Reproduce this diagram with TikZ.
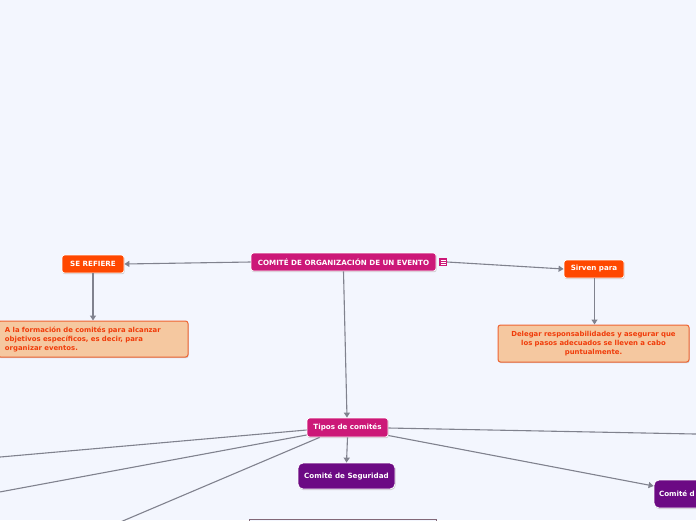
\documentclass[tikz,border=0pt]{standalone}
\usepackage{fontspec}
\setmainfont{DejaVu Sans}
\usetikzlibrary{arrows.meta,shadows}
\definecolor{bgc}{RGB}{243,246,254}
\definecolor{magc}{RGB}{204,24,120}
\definecolor{orc}{RGB}{255,72,0}
\definecolor{peach}{RGB}{245,200,160}
\definecolor{peachb}{RGB}{238,100,50}
\definecolor{peacht}{RGB}{240,60,10}
\definecolor{purc}{RGB}{108,10,132}
\definecolor{linec}{RGB}{128,130,142}
\definecolor{botc}{RGB}{130,104,120}
\tikzset{
  box/.style={rounded corners=2.5pt, draw=white, line width=0.8pt, inner sep=0pt, text=white,
    font=\fontsize{7.15}{8}\selectfont\bfseries,
    drop shadow={shadow xshift=0.6pt, shadow yshift=-1.2pt, fill=black!35, opacity=0.5}},
  magbox/.style={box, fill=magc},
  orbox/.style={box, fill=orc},
  purbox/.style={box, fill=purc, rounded corners=5pt},
  peachbox/.style={rounded corners=2.5pt, draw=peachb, line width=1pt, fill=peach, text=peacht,
    inner sep=0pt, font=\fontsize{6.9}{9}\selectfont\bfseries,
    drop shadow={shadow xshift=0.6pt, shadow yshift=-1.2pt, fill=black!35, opacity=0.5}},
  conn/.style={draw=linec, line width=1.1pt},
  arr/.style={conn, -{Triangle[length=5pt,width=6pt]}},
}
\begin{document}
\begin{tikzpicture}[x=1pt,y=-1pt]
\useasboundingbox (0,0) rectangle (696,520);
\clip (0,0) rectangle (696,520);
\fill[bgc] (0,0) rectangle (696,520);

% nodes
\node[magbox, minimum width=185pt, minimum height=18pt] (main) at (343.5,262) {COMITÉ DE ORGANIZACIÓN DE UN EVENTO};
\node[fill=magc, minimum width=8pt, minimum height=8pt, inner sep=0pt] (icon) at (443,262) {};
\foreach \dy in {-2,0,2} \draw[white, line width=0.6pt] ([xshift=-2.5pt,yshift=\dy pt]icon.center) -- ([xshift=2.5pt,yshift=\dy pt]icon.center);

\node[orbox, minimum width=62pt, minimum height=18pt] (seref) at (93,264) {SE REFIERE};
\node[peachbox, minimum width=190pt, minimum height=36pt, align=left, text width=176pt] (lbox) at (93,339)
  {A la formación de comités para alcanzar\\objetivos específicos, es decir, para\\organizar eventos.};

\node[orbox, minimum width=60pt, minimum height=18pt] (sirven) at (594,269) {Sirven para};
\node[peachbox, minimum width=191pt, minimum height=37pt, align=center, text width=185pt] (rbox) at (593.5,343.5)
  {Delegar responsabilidades y asegurar que\\los pasos adecuados se lleven a cabo\\puntualmente.};

\node[magbox, minimum width=81pt, minimum height=19pt] (tipos) at (347.5,427.5) {Tipos de comités};
\node[purbox, minimum width=97pt, minimum height=26pt] (seg) at (346.5,476) {Comité de Seguridad};
\node[purbox, minimum width=100pt, minimum height=28pt, text width=90pt, align=left] (comd) at (704,494) {Comité d};

\node[draw=botc, fill=bgc, line width=1pt, minimum width=187pt, minimum height=30pt, inner sep=0pt] (bottom) at (342.5,534.5) {};

% free ends
\coordinate (l1) at (-2,457.2);
\coordinate (l2) at (-2,492.3);
\coordinate (l3) at (118,523);
\coordinate (r1) at (700,434.1);

% connectors
\draw[arr] (main.west) -- (seref.east);
\draw[arr] (seref.south) -- (lbox.north);
\draw[arr] (icon.east) -- (sirven.west);
\draw[arr] ([xshift=0.5pt]sirven.south) -- ([xshift=1pt]rbox.north);
\draw[arr] (main.south) -- ([xshift=-0.5pt]tipos.north);
\draw[arr] (tipos.south) -- (seg.north);
\draw[arr] ([yshift=-8pt]tipos.east) -- ([yshift=8pt]comd.west);
\draw[conn] ([yshift=-2.5pt]tipos.west) -- (l1);
\draw[conn] ([yshift=-7.5pt]tipos.west) -- (l2);
\draw[conn] ([xshift=13pt]tipos.south west) -- (l3);
\draw[conn] ([yshift=-0.5pt]tipos.east) -- (r1);
\end{tikzpicture}
\end{document}
